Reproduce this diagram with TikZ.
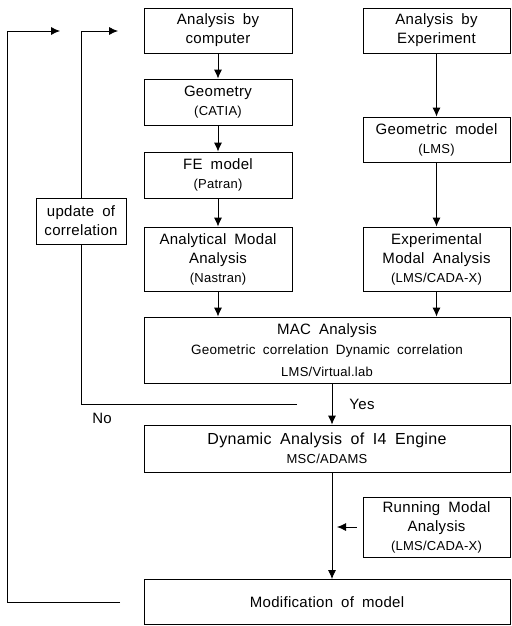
\documentclass[tikz,border=0pt]{standalone}
\usepackage{fontspec}
\setmainfont{Liberation Sans}[WordSpace=1.8,LetterSpace=2]
\usetikzlibrary{arrows.meta}
\newcommand\subl[1]{{\fontsize{13}{17}\selectfont #1}}
\tikzset{
  box/.style={draw, line width=0.8pt, inner sep=0pt, align=center,
    font=\fontsize{15}{19}\selectfont},
  colbox/.style={box, minimum width=148pt},
  widebox/.style={box, minimum width=366pt},
  arr/.style={line width=0.8pt, -{Latex[length=9pt,width=8pt]}},
  ln/.style={line width=0.8pt},
  lbl/.style={font=\fontsize{15}{19}\selectfont, inner sep=0pt}
}
\begin{document}
\begin{tikzpicture}[x=1pt,y=-1pt]
\useasboundingbox (0,0) rectangle (511,626);
% left column
\node[colbox, minimum height=45pt] (comp) at (218,30.5) {Analysis by\\computer};
\node[colbox, minimum height=46pt] (geom) at (218,102) {Geometry\\\subl{(CATIA)}};
\node[colbox, minimum height=46pt] (fe) at (218,175) {FE model\\\subl{(Patran)}};
\node[colbox, minimum height=64pt] (anal) at (218,259) {Analytical Modal\\Analysis\\\subl{(Nastran)}};
% right column
\node[colbox, minimum width=147pt, minimum height=45pt] (exp) at (436.5,30.5) {Analysis by\\Experiment};
\node[colbox, minimum width=147pt, minimum height=45pt] (gm) at (436.5,139.5) {Geometric model\\\subl{(LMS)}};
\node[colbox, minimum width=147pt, minimum height=64pt] (ema) at (436.5,259) {Experimental\\Modal Analysis\\\subl{(LMS/CADA-X)}};
% wide boxes
\node[widebox, minimum height=66pt] (mac) at (327,350) {MAC Analysis\\[1pt]{\fontsize{13.5}{17}\selectfont Geometric correlation Dynamic correlation}\\[3pt]\subl{LMS/Virtual.lab}};
\node[widebox, minimum height=47pt] (dyn) at (327,448.5) {{\fontsize{16}{18}\selectfont Dynamic Analysis of I4 Engine}\\\subl{MSC/ADAMS}};
\node[colbox, minimum width=147pt, minimum height=60pt] (run) at (436.5,527) {Running Modal\\Analysis\\\subl{(LMS/CADA-X)}};
\node[widebox, minimum height=45pt] (mod) at (327,602) {Modification of model};
% update box
\node[box, minimum width=90pt, minimum height=46pt] (upd) at (81,221) {update of\\correlation};
% labels
\node[lbl] (no) at (102,418) {No};
\node[lbl] (yes) at (362,404) {Yes};
% helper coordinates
\coordinate (yx) at (332,0);
\coordinate (nostart) at (297,404);
\coordinate (itip) at (118,31);
\coordinate (ostart) at (120,602);
\coordinate (oleft) at (7,602);
\coordinate (otip) at (60,31);
% arrows
\draw[arr] (comp) -- (geom);
\draw[arr] (geom) -- (fe);
\draw[arr] (fe) -- (anal);
\draw[arr] (anal) -- (anal |- mac.north);
\draw[arr] (exp) -- (gm);
\draw[arr] (gm) -- (ema);
\draw[arr] (ema) -- (ema |- mac.north);
\draw[arr] (mac.south -| yx) -- (dyn.north -| yx);
\draw[arr] (dyn.south -| yx) -- (mod.north -| yx);
\draw[arr] ([xshift=-6pt]run.west) -- ([xshift=5pt]run.west -| yx);
% feedback loops
\draw[ln] (nostart) -| (upd.south);
\draw[arr] (upd.north) |- (itip);
\draw[arr] (ostart) -- (oleft) |- (otip);
\end{tikzpicture}
\end{document}
